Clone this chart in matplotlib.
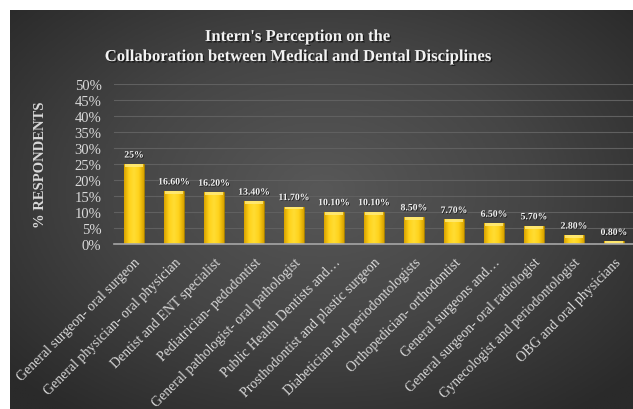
# %% Intern's perception bar chart (dark Excel-style)

import numpy as np
import matplotlib.pyplot as plt
import matplotlib.patheffects as path_effects
from matplotlib.colors import LinearSegmentedColormap

# %% Data

categories = ['General surgeon- oral surgeon', 'General physician- oral physician',
              'Dentist and ENT specialist', 'Pediatrician- pedodontist',
              'General pathologist- oral pathologist', 'Public Health Dentists and…',
              'Prosthodontist and plastic surgeon', 'Diabetician and periodontologists',
              'Orthopedician- orthodontist', 'General surgeons and…',
              'General surgeon- oral radiologist', 'Gynecologist and periodontologist',
              'OBG and oral physicians']
values = [25, 16.6, 16.2, 13.4, 11.7, 10.1, 10.1, 8.5, 7.7, 6.5, 5.7, 2.8, 0.8]
value_labels = ['25%', '16.60%', '16.20%', '13.40%', '11.70%', '10.10%', '10.10%',
                '8.50%', '7.70%', '6.50%', '5.70%', '2.80%', '0.80%']
yticks = [0, 5, 10, 15, 20, 25, 30, 35, 40, 45, 50]

# %% Figure and gradient background

plt.rcParams['font.family'] = ['Liberation Serif', 'DejaVu Serif']

fig = plt.figure(figsize=(6.33, 4.10), dpi=100)
fig.set_facecolor('white')

bg_ax = fig.add_axes([10/633, 0, 1 - 10/633, 1 - 11/410])
bg_ax.axis('off')
yy, xx = np.mgrid[-1:1:300j, -1:1:400j]
r = np.sqrt((xx / 1.0)**2 + ((yy + 0.1) / 1.05)**2)
bg_cmap = LinearSegmentedColormap.from_list('bg', ['#585858', '#454545', '#2a2a2a'])
bg_ax.imshow(np.clip(r / 1.35, 0, 1), cmap=bg_cmap, vmin=0, vmax=1, aspect='auto',
             extent=[0, 1, 0, 1])
bg_ax.set_xlim(0, 1)
bg_ax.set_ylim(0, 1)

# %% Main axes

ax = fig.add_axes([114/633, 165/410, 520/633, 160/410])
ax.set_facecolor('none')

x = np.arange(len(categories))
bars = ax.bar(x, values, width=0.5, color='#FFC61A', edgecolor='#A07D00', linewidth=0.6, zorder=3)

# Bevel-like gradient in each bar
bar_cmap = LinearSegmentedColormap.from_list('gold', ['#D9A300', '#FFD21A', '#FFDD33', '#FFD21A', '#D9A300'])
grad = np.linspace(0, 1, 64).reshape(1, -1)
for b in bars:
    bx, by = b.get_x(), b.get_y()
    bw, bh = b.get_width(), b.get_height()
    im = ax.imshow(grad, cmap=bar_cmap, aspect='auto', extent=[bx, bx + bw, by, by + bh], zorder=3.5)
    im.set_clip_path(b)
    # light top bevel
    ax.bar(bx + bw/2, min(0.9, bh), bottom=by + bh - min(0.9, bh), width=bw*0.9,
           color='#FFEC80', linewidth=0, zorder=4, alpha=0.8)

ax.set_xlim(-0.5, len(categories) - 0.5)
ax.set_ylim(0, 50)
ax.set_aspect('auto')

ax.set_yticks(yticks)
ax.set_yticklabels([f'{t}%' for t in yticks])
ax.yaxis.grid(True, color='#606060', linewidth=0.8, zorder=0)
ax.set_axisbelow(True)

for side in ['top', 'right', 'left']:
    ax.spines[side].set_visible(False)
ax.spines['bottom'].set_color('#A6A6A6')
ax.spines['bottom'].set_linewidth(1.2)
ax.spines['bottom'].set_zorder(5)

ax.tick_params(axis='y', length=0, pad=9, labelsize=10.5, labelcolor='#D9D9D9')
ax.tick_params(axis='x', length=0, pad=8, labelsize=10, labelcolor='#D9D9D9')
ax.set_xticks(x)
ax.set_xticklabels(categories, rotation=45, ha='right', rotation_mode='anchor')

ax.set_ylabel('% RESPONDENTS', fontweight='bold', fontsize=10.5, color='#D9D9D9')
ax.yaxis.set_label_coords(-(114 - 47) / 520, 0.5)

# Data labels
shadow = [path_effects.withSimplePatchShadow(offset=(0.6, -0.6), shadow_rgbFace='black', alpha=0.6)]
for xi, v, lab in zip(x, values, value_labels):
    ax.text(xi, v + 2.8, lab, ha='center', va='center', fontsize=7, fontweight='bold',
            color='#F2F2F2', zorder=6, clip_on=False, path_effects=shadow)

# Title
title_shadow = [path_effects.withSimplePatchShadow(offset=(1, -1), shadow_rgbFace='black', alpha=0.6)]
fig.text(297/633, 1 - 38/410, "Intern's Perception on the", ha='center', va='center',
         fontsize=12, fontweight='bold', color='#F2F2F2', path_effects=title_shadow)
fig.text(297/633, 1 - 58/410, "Collaboration between Medical and Dental Disciplines", ha='center',
         va='center', fontsize=12, fontweight='bold', color='#F2F2F2', path_effects=title_shadow)

fig.savefig('out.png', dpi=100)
